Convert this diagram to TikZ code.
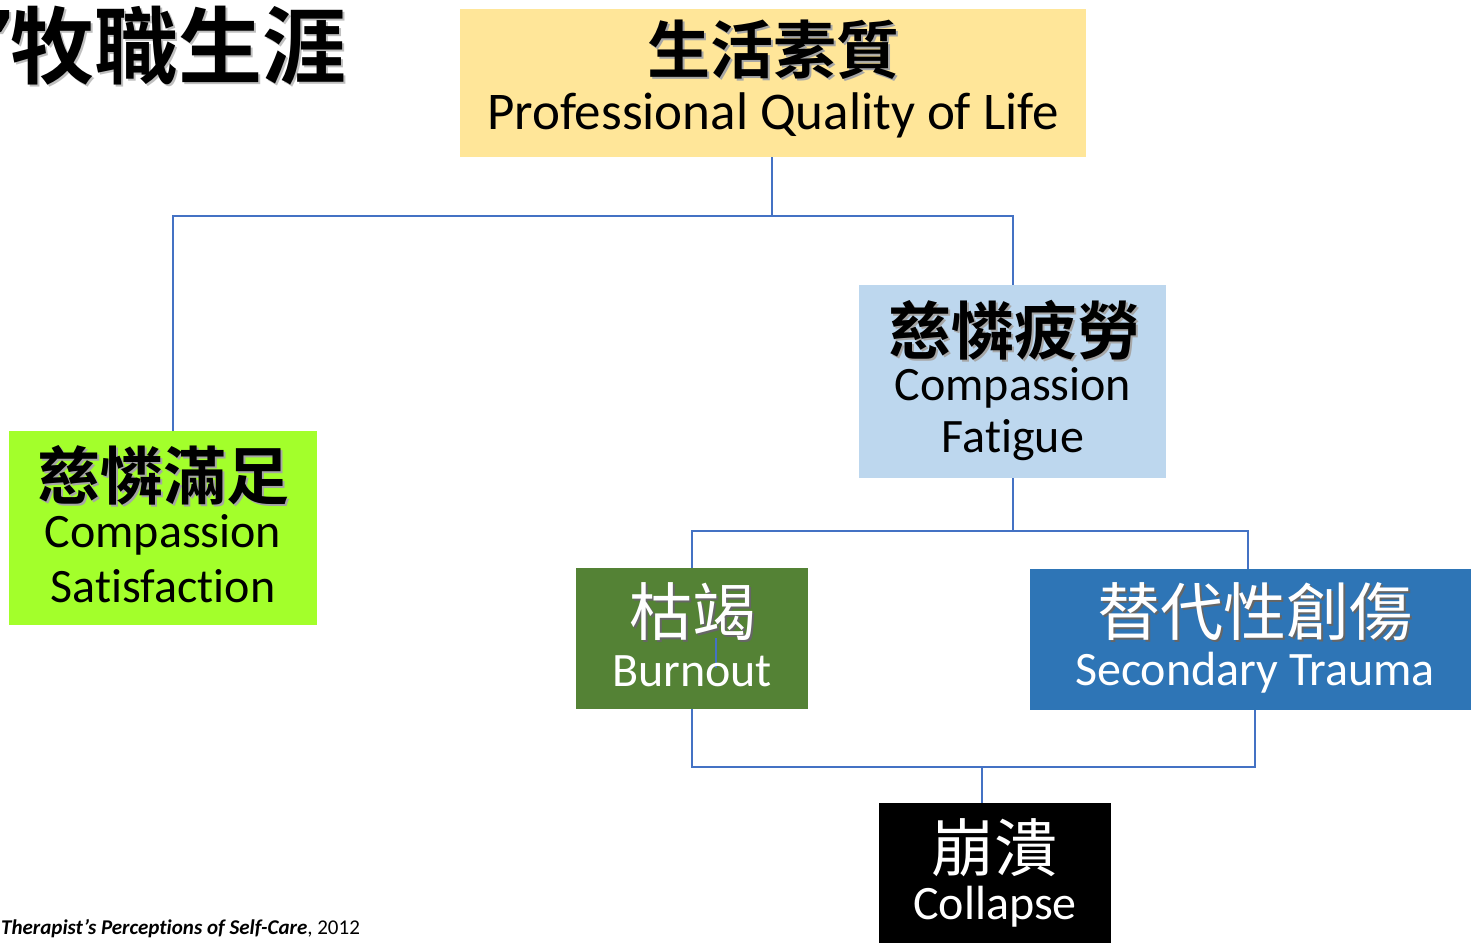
\documentclass[tikz,border=0pt]{standalone}
\usepackage{fontspec}
\setmainfont[Ligatures={NoCommon},RawFeature=-calt,RawFeature=-clig]{Carlito}
\newfontfamily\cjk{Noto Sans CJK TC}
\newfontfamily\cjkb{Noto Sans CJK TC Bold}
\definecolor{lineblue}{HTML}{4472C4}
\definecolor{yel}{HTML}{FFE699}
\definecolor{lblue}{HTML}{BDD7EE}
\definecolor{lime}{HTML}{A3FF2B}
\definecolor{dgreen}{HTML}{548235}
\definecolor{mblue}{HTML}{2E75B6}
\begin{document}
\begin{tikzpicture}[x=1pt,y=-1pt,
  box/.style={inner sep=0pt,outer sep=0pt},
  conn/.style={draw=lineblue,line width=2pt},
  cj/.style={font=\fontsize{63}{70}\selectfont\cjk},
  en/.style={font=\fontsize{48}{55}\selectfont},
  lbl/.style={inner sep=0pt,anchor=center},
  ttl/.style={inner sep=0pt,font=\fontsize{84}{90}\selectfont\cjkb}]
\useasboundingbox (0,0) rectangle (1471,943);
% boxes
\fill[yel] (460,9) rectangle (1086,157);
\node[box] (top) at (773,83) [minimum width=626pt,minimum height=148pt] {};
\fill[lblue] (859,285) rectangle (1166,478);
\node[box] (cf) at (1012.5,381.5) [minimum width=307pt,minimum height=193pt] {};
\fill[lime] (9,431) rectangle (317,625);
\node[box] (cs) at (163,528) [minimum width=308pt,minimum height=194pt] {};
\fill[dgreen] (576,568) rectangle (808,709);
\node[box] (bo) at (692,638.5) [minimum width=232pt,minimum height=141pt] {};
\fill[mblue] (1030,569) rectangle (1471,710);
\node[box] (st) at (1250.5,639.5) [minimum width=441pt,minimum height=141pt] {};
\fill[black] (879,803) rectangle (1111,943);
\node[box] (co) at (995,873) [minimum width=232pt,minimum height=140pt] {};
% connectors
\coordinate (j1) at (772,216);
\coordinate (j2) at (1013,531);
\coordinate (j3) at (982,767);
\draw[conn] (top.south -| j1) -- (j1);
\draw[conn] (cs.north -| 173,0) |- (j1) -| (cf.north -| 1013,0);
\draw[conn] (cf.south -| j2) -- (j2);
\draw[conn] (bo.north -| 692,0) |- (j2) -| (st.north -| 1248,0);
\draw[conn] (bo.south -| 692,0) |- (j3) -| (st.south -| 1255,0);
\draw[conn] (j3) -- (co.north -| j3);
\coordinate (a1) at (716,638);
\coordinate (a2) at (716,668);
\draw[lineblue,line width=1.2pt] (a1) -- (a2);
% texts
\node[lbl,cj,text=gray!70] at (775,52) {\cjkb 生活素質};
\node[lbl,cj] (t1) at (773,50) {\cjkb 生活素質};
\node[lbl,en,font=\fontsize{53}{60}\selectfont] (t2) at (773,115) {Professional Quality of Life};
\node[lbl,cj,text=gray!70] at (1016,332) {\cjkb 慈憐疲勞};
\node[lbl,cj] at (1014,330) {\cjkb 慈憐疲勞};
\node[lbl,en] at (1013,388) {Compassion};
\node[lbl,en] at (1013,440) {Fatigue};
\node[lbl,cj,text=gray!70] at (165,477) {\cjkb 慈憐滿足};
\node[lbl,cj] at (163,475) {\cjkb 慈憐滿足};
\node[lbl,en] at (163,535) {Compassion};
\node[lbl,en] at (163,586) {Satisfaction};
\node[lbl,cj,text=black!60] at (694,614) {枯竭};
\node[lbl,cj,text=white] at (692,612) {枯竭};
\node[lbl,en,text=white] at (692,671) {Burnout};
\node[lbl,cj,text=black!60] at (1257,614) {替代性創傷};
\node[lbl,cj,text=white] at (1255,612) {替代性創傷};
\node[lbl,en,text=white] at (1255,673) {Secondary Trauma};
\node[lbl,cj,text=white] at (994,848) {崩潰};
\node[lbl,en,text=white] at (995,907) {Collapse};
% title and citation
\node[anchor=east,ttl,text=gray!50] at (349,48) {牧職生涯};
\node[anchor=east,ttl] (title) at (347,46) {牧職生涯};
\fill[gray!50] (0,12) -- (11,12) -- (11,20) .. controls (8,26) .. (3,34) -- (0,34) -- cycle;
\fill[black] (0,10) -- (9,10) -- (9,18) .. controls (6,24) .. (1,32) -- (0,32) -- cycle;
\node[anchor=west,inner sep=0pt,font=\fontsize{21}{24}\selectfont] (cite) at (1,929) {\textbf{\textit{Therapist’s Perceptions of Self-Care}}, 2012};
\end{tikzpicture}
\end{document}
